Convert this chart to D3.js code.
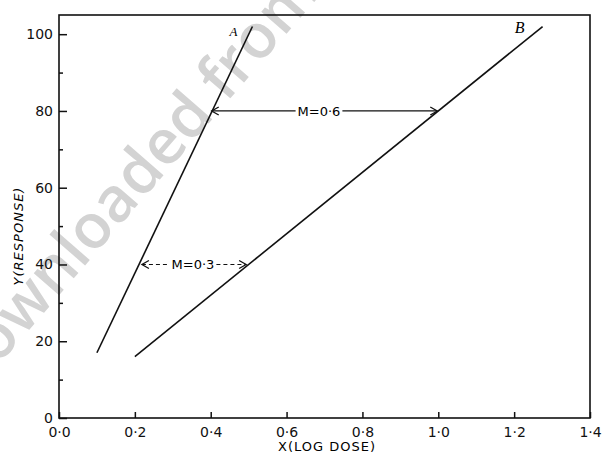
<!DOCTYPE html>
<html>
<head>
<meta charset="utf-8">
<script src="https://cdn.jsdelivr.net/npm/d3@7"></script>
<style>
  body { margin: 0; background: #fff; }
  svg { display: block; }
  .tick text { font-family: "DejaVu Sans", sans-serif; font-size: 14px; fill: #111; }
  .tick line { stroke: #111; stroke-width: 1.5; }
</style>
</head>
<body>
<svg id="chart"></svg>
<script>
// values
var xTicks = [0, 0.2, 0.4, 0.6, 0.8, 1.0, 1.2, 1.4];
var xTickLabels = ["0·0", "0·2", "0·4", "0·6", "0·8", "1·0", "1·2", "1·4"];
var yTicks = [0, 20, 40, 60, 80, 100];
var yMinorTicks = [10, 30, 50, 70, 90];

var lineA = [[0.1, 17], [0.51, 102]];
var lineB = [[0.2, 16], [1.275, 102]];
var lineNames = ["A", "B"];

// horizontal distance markers between the lines: [from x, to x, at y, label]
var gaps = [
  [0.4, 1.0, 80, "M=0·6"],
  [0.216, 0.496, 40, "M=0·3"]
];

var width = 604, height = 457;
var svg = d3.select("#chart").attr("width", width).attr("height", height);

var x = d3.scaleLinear().domain([0, 1.4]).range([59, 590]);
var y = d3.scaleLinear().domain([0, 105]).range([418, 15]);

// faint watermark
svg.append("text")
    .attr("transform", "translate(-32,400) rotate(-49)")
    .attr("font-family", "Open Sans, sans-serif")
    .attr("font-size", 62)
    .attr("font-weight", 600)
    .attr("fill", "#d3d3d3")
    .text("Downloaded from");

// frame
svg.append("rect")
    .attr("x", x(0)).attr("y", y(105))
    .attr("width", x(1.4) - x(0)).attr("height", y(0) - y(105))
    .attr("fill", "none").attr("stroke", "#111").attr("stroke-width", 1.6);

// axes, ticks pointing inward
svg.append("g")
    .attr("transform", "translate(" + x(0) + ",0)")
    .call(d3.axisLeft(y).tickValues(yTicks).tickSize(-8).tickPadding(6))
    .call(g => g.select(".domain").remove());

svg.append("g")
    .attr("transform", "translate(" + x(0) + ",0)")
    .call(d3.axisLeft(y).tickValues(yMinorTicks).tickSize(-4).tickFormat(""))
    .call(g => g.select(".domain").remove());

svg.append("g")
    .attr("transform", "translate(0," + y(0) + ")")
    .call(d3.axisBottom(x).tickValues(xTicks).tickSize(-6).tickPadding(9)
            .tickFormat((d, i) => xTickLabels[i]))
    .call(g => g.select(".domain").remove());

// axis titles
svg.append("text")
    .attr("x", 327).attr("y", 451)
    .attr("text-anchor", "middle")
    .attr("font-family", "DejaVu Sans, sans-serif")
    .attr("font-size", 13)
    .attr("letter-spacing", 1)
    .text("X(LOG DOSE)");

svg.append("text")
    .attr("transform", "translate(23,236) rotate(-90)")
    .attr("text-anchor", "middle")
    .attr("font-family", "DejaVu Sans, sans-serif")
    .attr("font-size", 13)
    .attr("font-style", "italic")
    .attr("letter-spacing", 1)
    .text("Y(RESPONSE)");

// the two response lines
var line = d3.line().x(d => x(d[0])).y(d => y(d[1]));
[lineA, lineB].forEach((pts, i) => {
  svg.append("path")
      .attr("d", line(pts))
      .attr("fill", "none")
      .attr("stroke", "#111")
      .attr("stroke-width", 1.6);
  var end = pts[pts.length - 1];
  svg.append("text")
      .attr("x", x(end[0]) - (i == 0 ? 19 : 23))
      .attr("y", y(end[1]) + (i == 0 ? 9 : 6))
      .attr("text-anchor", "middle")
      .attr("font-family", "Liberation Serif, serif")
      .attr("font-style", "italic")
      .attr("font-size", i == 0 ? 13 : 16)
      .text(lineNames[i]);
});

// distance markers
gaps.forEach((g, i) => {
  var x0 = x(g[0]), x1 = x(g[1]), yy = y(g[2]);
  var mid = i == 0 ? 319 : 193;
  var label = svg.append("text")
      .attr("x", mid).attr("y", yy + 5)
      .attr("text-anchor", "middle")
      .attr("font-family", "DejaVu Sans, sans-serif")
      .attr("font-size", 13)
      .text(g[3]);
  var w = label.node().getComputedTextLength();
  var segs = [[x0 + 1, mid - w / 2 - 2], [mid + w / 2 + 2, x1 - 1]];
  segs.forEach(s => {
    svg.append("line")
        .attr("x1", s[0]).attr("x2", s[1])
        .attr("y1", yy).attr("y2", yy)
        .attr("stroke", "#111").attr("stroke-width", 1.2)
        .attr("stroke-dasharray", i == 0 ? null : "4,3");
  });
  // arrow heads pointing outward to the lines
  svg.append("path")
      .attr("d", "M" + (x0 + 8) + "," + (yy - 4) + "L" + (x0 + 1) + "," + yy + "L" + (x0 + 8) + "," + (yy + 4))
      .attr("fill", "none").attr("stroke", "#111").attr("stroke-width", 1.3);
  svg.append("path")
      .attr("d", "M" + (x1 - 8) + "," + (yy - 4) + "L" + (x1 - 1) + "," + yy + "L" + (x1 - 8) + "," + (yy + 4))
      .attr("fill", "none").attr("stroke", "#111").attr("stroke-width", 1.3);
});
</script>
</body>
</html>
